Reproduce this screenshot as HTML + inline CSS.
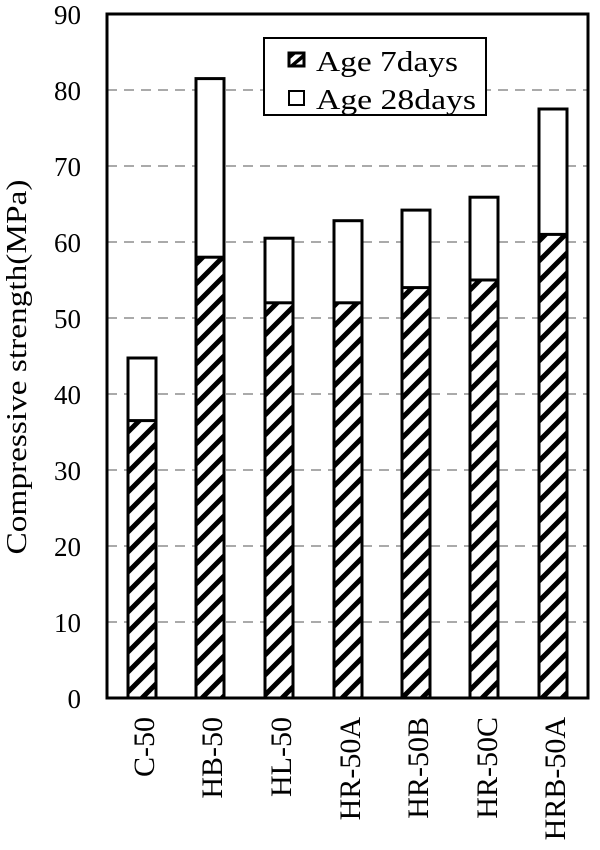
<!DOCTYPE html>
<html><head><style>body{margin:0;background:#fff}svg{display:block}</style></head>
<body>
<svg width="600" height="850" xmlns="http://www.w3.org/2000/svg" font-family="Liberation Serif, serif">
<defs>
<pattern id="h" patternUnits="userSpaceOnUse" width="20" height="20">
<rect width="20" height="20" fill="#fff"/>
<path d="M-5,5 L5,-5 M0,20 L20,0 M15,25 L25,15" stroke="#000" stroke-width="5"/>
</pattern>
</defs>
<g stroke="#aaa" stroke-width="2" stroke-dasharray="10,7">
<line x1="107" x2="588" y1="622" y2="622"/><line x1="107" x2="588" y1="546" y2="546"/>
<line x1="107" x2="588" y1="470" y2="470"/><line x1="107" x2="588" y1="394" y2="394"/>
<line x1="107" x2="588" y1="318" y2="318"/><line x1="107" x2="588" y1="242" y2="242"/>
<line x1="107" x2="588" y1="166" y2="166"/><line x1="107" x2="588" y1="90" y2="90"/>
</g>
<g stroke="#000" stroke-width="3">
<rect x="128" y="358" width="28" height="340" fill="#fff"/><rect x="128" y="420.6" width="28" height="277.4" fill="url(#h)"/>
<rect x="196" y="78.6" width="28" height="619.4" fill="#fff"/><rect x="196" y="257.2" width="28" height="440.8" fill="url(#h)"/>
<rect x="265" y="238.2" width="28" height="459.8" fill="#fff"/><rect x="265" y="302.8" width="28" height="395.2" fill="url(#h)"/>
<rect x="334" y="220.7" width="28" height="477.3" fill="#fff"/><rect x="334" y="302.8" width="28" height="395.2" fill="url(#h)"/>
<rect x="402" y="210.1" width="28" height="487.9" fill="#fff"/><rect x="402" y="287.6" width="28" height="410.4" fill="url(#h)"/>
<rect x="470" y="197.2" width="28" height="500.8" fill="#fff"/><rect x="470" y="280" width="28" height="418" fill="url(#h)"/>
<rect x="539" y="109" width="28" height="589" fill="#fff"/><rect x="539" y="234.4" width="28" height="463.6" fill="url(#h)"/>
</g>
<rect x="107" y="14" width="481" height="684" fill="none" stroke="#000" stroke-width="3"/>
<g font-size="27" text-anchor="end">
<text x="81" y="708">0</text><text x="81" y="632">10</text><text x="81" y="556">20</text>
<text x="81" y="480">30</text><text x="81" y="404">40</text><text x="81" y="328">50</text>
<text x="81" y="252">60</text><text x="81" y="176">70</text><text x="81" y="100">80</text><text x="81" y="24">90</text>
</g>
<text transform="translate(26,367) rotate(-90)" font-size="28" text-anchor="middle" textLength="375" lengthAdjust="spacingAndGlyphs">Compressive strength(MPa)</text>
<g font-size="30" text-anchor="end">
<text transform="translate(154,717) rotate(-90)">C-50</text>
<text transform="translate(222,717) rotate(-90)">HB-50</text>
<text transform="translate(291,717) rotate(-90)">HL-50</text>
<text transform="translate(360,717) rotate(-90)">HR-50A</text>
<text transform="translate(428,717) rotate(-90)">HR-50B</text>
<text transform="translate(497,717) rotate(-90)">HR-50C</text>
<text transform="translate(565,717) rotate(-90)">HRB-50A</text>
</g>
<rect x="264" y="38" width="222" height="77" fill="#fff" stroke="#000" stroke-width="2"/>
<rect x="289" y="53" width="15" height="13" fill="#fff" stroke="#000" stroke-width="3"/>
<path d="M289,66 L304,53 L304,58 L294,66 Z M289,53 L297,53 L289,60 Z" fill="#000"/>
<rect x="289" y="91" width="15" height="14" fill="#fff" stroke="#000" stroke-width="2"/>
<text x="316" y="71" font-size="28" textLength="142" lengthAdjust="spacingAndGlyphs">Age 7days</text>
<text x="316" y="109" font-size="28" textLength="160" lengthAdjust="spacingAndGlyphs">Age 28days</text>
</svg>
</body></html>
